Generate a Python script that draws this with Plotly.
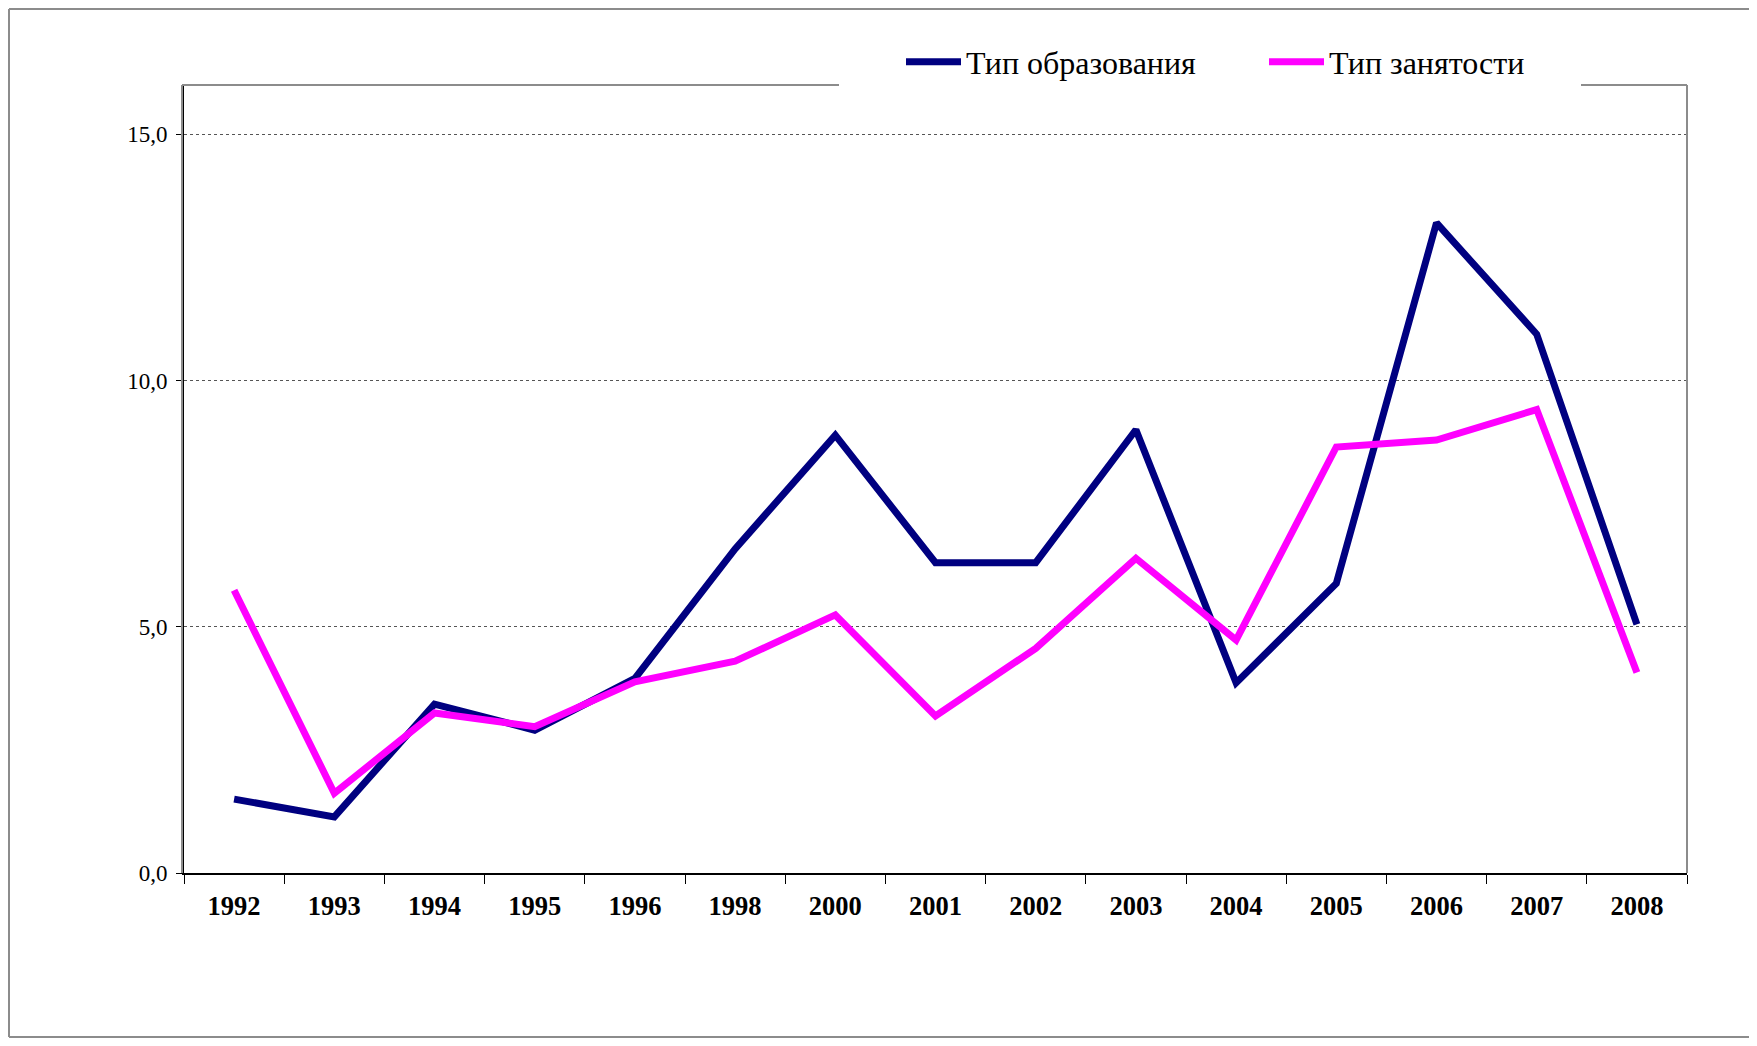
import plotly.graph_objs as go

YEARS = ["1992", "1993", "1994", "1995", "1996", "1998", "2000", "2001",
         "2002", "2003", "2004", "2005", "2006", "2007", "2008"]

EDU_TYPE = [1.50, 1.14, 3.43, 2.90, 3.95, 6.58, 8.89, 6.30,
            6.30, 9.00, 3.86, 5.88, 13.20, 10.94, 5.05]

JOB_TYPE = [5.74, 1.62, 3.25, 2.97, 3.88, 4.30, 5.24, 3.19,
            4.56, 6.39, 4.73, 8.65, 8.79, 9.41, 4.07]

SERIES_NAMES = ["Тип образования", "Тип занятости"]
SERIES_COLORS = ["#000080", "#FF00FF"]

# page body has an 8px margin; keep the figure inside the window (no scrollbars)
OFF = 8
W, H = 1757 - OFF, 1046 - 2 * OFF
# plot area in page pixels: x 184..1687, y 85..873
L, T = 184 - OFF, 85 - OFF
R = W - (1687 - OFF)
B = H - (873 - OFF)
PW = W - L - R
PH = H - T - B


def px_x(p):
    # page pixel -> paper coordinate
    return (p - OFF - L) / PW


def px_y(p):
    return (H - B - (p - OFF)) / PH


SERIF = "Liberation Serif, Times New Roman, serif"

fig = go.Figure()
for name, vals, col in zip(SERIES_NAMES, [EDU_TYPE, JOB_TYPE], SERIES_COLORS):
    fig.add_trace(go.Scatter(x=YEARS, y=vals, name=name, mode="lines",
                             line=dict(color=col, width=7)))

GRAY = "#8c8c8c"


def seg(x0, y0, x1, y1):
    return dict(type="line", xref="paper", yref="paper", x0=x0, x1=x1, y0=y0, y1=y1,
                line=dict(color=GRAY, width=2))


shapes = [
    # outer chart frame (left, top, bottom)
    seg(px_x(9), px_y(9), px_x(9), px_y(1037)),
    seg(px_x(9), px_y(9), px_x(1757), px_y(9)),
    seg(px_x(9), px_y(1037), px_x(1757), px_y(1037)),
    # plot area border (gray), top broken by legend
    seg(px_x(182), 0, px_x(182), 1),
    seg(1, 0, 1, 1),
    seg(px_x(182), 1, px_x(839), 1),
    seg(px_x(1581), 1, 1, 1),
]

fig.update_layout(
    width=W, height=H,
    margin=dict(l=L, r=R, t=T, b=B, autoexpand=False),
    paper_bgcolor="white", plot_bgcolor="white",
    separators=", ",
    font=dict(family=SERIF, color="black"),
    shapes=shapes,
    showlegend=True,
    legend=dict(orientation="h", x=px_x(901), y=px_y(62), xanchor="left", yanchor="middle",
                font=dict(family=SERIF, size=32, color="black"),
                bgcolor="rgba(0,0,0,0)", itemwidth=55, tracegroupgap=0,
                entrywidth=293, entrywidthmode="pixels"),
)

fig.update_xaxes(
    type="category", range=[-0.5, 14.5], tickson="boundaries",
    ticks="outside", ticklen=9, tickwidth=1, tickcolor="black",
    showline=True, linecolor="black", linewidth=2, showgrid=False,
    tickfont=dict(family=SERIF, size=26.5, color="black", weight="bold"),
    ticklabelstandoff=8, automargin=False,
)

fig.update_yaxes(
    range=[0, 16], tick0=0, dtick=5, tickformat=".1f",
    ticks="outside", ticklen=6, tickwidth=1, tickcolor="black",
    showline=True, linecolor="black", linewidth=2,
    showgrid=True, gridcolor="#555555", gridwidth=1, griddash="dot",
    zeroline=False,
    tickfont=dict(family=SERIF, size=23, color="black"),
    ticklabelstandoff=4, automargin=False,
)

fig.write_html("out.html")
